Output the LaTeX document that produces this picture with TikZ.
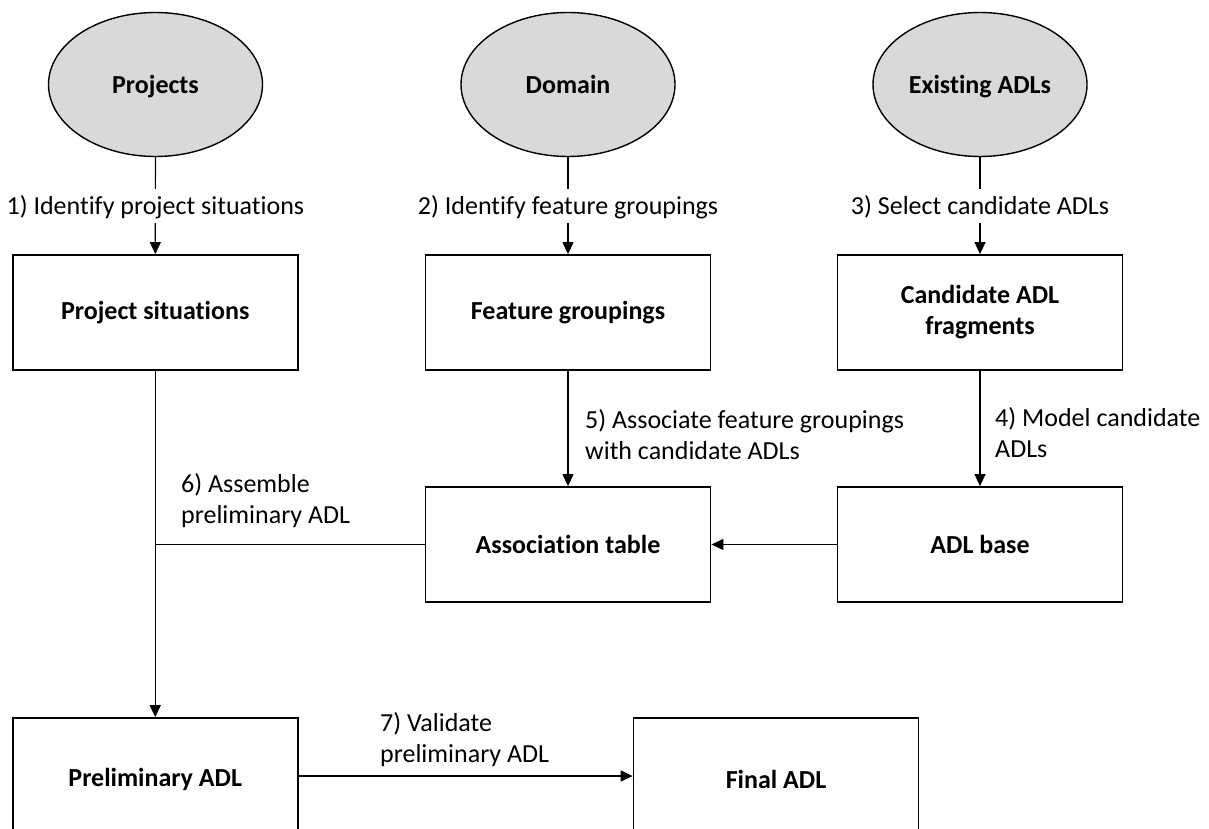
\documentclass[tikz,border=0pt]{standalone}
\usepackage{fontspec}
\setmainfont[Ligatures=NoCommon]{Carlito}
\usetikzlibrary{arrows.meta,shapes.geometric}
\definecolor{srcgray}{HTML}{D9D9D9}
\begin{document}
\begin{tikzpicture}[x=1pt,y=-1pt,
  txt/.style={font=\fontsize{26}{31}\selectfont},
  box/.style={draw,line width=1.8pt,minimum width=285pt,minimum height=115pt,font=\fontsize{26}{31}\selectfont\bfseries,align=center,inner sep=0pt},
  src/.style={ellipse,draw,line width=1.4pt,fill=srcgray,minimum width=214pt,minimum height=144pt,font=\fontsize{26}{31}\selectfont\bfseries,inner sep=0pt,text height=22pt,text depth=4pt},
  conn/.style={line width=1.2pt},
  arr/.style={conn,-{Triangle[length=12pt,width=11pt]}},
  lab/.style={txt,align=left,inner sep=0pt},
  cut/.style={txt,fill=white,inner xsep=1pt,inner ysep=4pt,text height=22pt,text depth=4pt}
]
\useasboundingbox (0,0) rectangle (1209,829);
\clip (0,0) rectangle (1209,829);

% sources
\node[src] (P) at (155.5,84.5) {Projects};
\node[src] (D) at (568,84.5) {Domain};
\node[src] (E) at (980,84.5) {Existing ADLs};

% boxes
\node[box] (PS) at (155.25,312.5) {Project situations};
\node[box] (FG) at (568,312.5) {Feature groupings};
\node[box] (CF) at (980,312.5) {Candidate ADL\\fragments};
\node[box] (AT) at (568,544.5) {Association table};
\node[box] (AB) at (980,544.5) {ADL base};
\node[box,minimum height=122pt] (PA) at (155.25,779) {Preliminary ADL};
\node[box,minimum height=122pt] (FA) at (776,779) {Final ADL};

% connectors
\draw[arr] (P) -- node[cut] {1) Identify project situations} (PS);
\draw[arr] (D) -- node[cut] {2) Identify feature groupings} (FG);
\draw[arr] (E) -- node[cut] {3) Select candidate ADLs} (CF);

\draw[arr] (FG) -- (AT);
\draw[arr] (CF) -- (AB);
\draw[arr] (AB) -- (AT);
\draw[arr] (PS.south) -- (PA.north);
\coordinate (J) at (PS.south |- AT.west);
\draw[conn] (AT.west) -- (J);
\draw[arr] (PA.east |- 0,776) -- (FA.west |- 0,776);

% labels
\node[lab,anchor=base west] (L5) at (585,459) {5) Associate feature groupings\\with candidate ADLs};
\node[lab,anchor=base west] (L4) at (995,457) {4) Model candidate\\ADLs};
\node[lab,anchor=base west] (L6) at (181,523) {6) Assemble\\preliminary ADL};
\node[lab,anchor=base west] (L7) at (380,762) {7) Validate\\preliminary ADL};
\end{tikzpicture}
\end{document}
